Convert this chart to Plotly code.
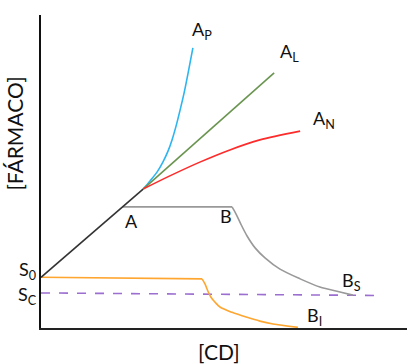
import plotly.graph_objects as go

# Phase-solubility diagram (Higuchi–Connors): drug solubility vs cyclodextrin concentration
s0 = 1.62  # intrinsic solubility
sc_line_x = [0.0, 9.18]
sc_line_y = [1.12, 1.04]

# initial linear rise up to the branch point
rise_x = [0.0, 2.79]
rise_y = [s0, 4.44]

# A-type profiles
ap_x = [2.79, 2.98, 3.17, 3.33, 3.47, 3.58, 3.69, 3.80, 3.91, 4.02, 4.15]
ap_y = [4.44, 4.70, 4.98, 5.30, 5.65, 6.01, 6.45, 6.96, 7.51, 8.15, 8.95]
al_x = [2.79, 6.37]
al_y = [4.44, 8.15]
an_x = [2.79, 3.52, 4.34, 5.16, 5.98, 7.08]
an_y = [4.44, 4.86, 5.30, 5.69, 6.01, 6.29]

# Bs profile: plateau then decline
bs_plateau_x = [2.22, 5.22]
bs_plateau_y = [3.87, 3.87]
bs_x = [5.22, 5.33, 5.46, 5.63, 5.85, 6.12, 6.53, 7.08, 7.62, 8.17, 8.52]
bs_y = [3.87, 3.64, 3.32, 2.94, 2.56, 2.24, 1.88, 1.57, 1.31, 1.15, 1.05]

# Bi profile
bi_plateau_x = [0.0, 4.40]
bi_plateau_y = [s0, 1.57]
bi_x = [4.40, 4.48, 4.56, 4.64, 4.75, 4.89, 5.22, 5.63, 5.98, 6.34, 7.02]
bi_y = [1.57, 1.41, 1.18, 0.99, 0.83, 0.67, 0.50, 0.34, 0.22, 0.13, 0.02]

FONT = "Lato"
lw = 1.6

fig = go.Figure()


def add_line(x, y, color, dash="solid", shape="linear"):
    fig.add_trace(go.Scatter(x=x, y=y, mode="lines", hoverinfo="skip",
                             line=dict(color=color, width=lw, dash=dash,
                                       shape=shape, smoothing=0.8)))


add_line(sc_line_x, sc_line_y, "#9B6FCF", dash="dash")
add_line(bi_plateau_x, bi_plateau_y, "#FFA630")
add_line(bi_x, bi_y, "#FFA630", shape="spline")
add_line(bs_plateau_x, bs_plateau_y, "#999999")
add_line(bs_x, bs_y, "#999999", shape="spline")
add_line(rise_x, rise_y, "#333333")
add_line(ap_x, ap_y, "#2DB5F0", shape="spline")
add_line(al_x, al_y, "#6A9550")
add_line(an_x, an_y, "#FF2A2A", shape="spline")

labels = [
    ("A<sub>P</sub>", 4.40, 9.52),
    ("A<sub>L</sub>", 6.78, 8.79),
    ("A<sub>N</sub>", 7.74, 6.65),
    ("A", 2.46, 3.42),
    ("B", 5.05, 3.58),
    ("B<sub>S</sub>", 8.48, 1.47),
    ("B<sub>I</sub>", 7.46, 0.38),
]
for txt, x, y in labels:
    fig.add_annotation(x=x, y=y, text=txt, showarrow=False,
                       xanchor="center", yanchor="middle",
                       font=dict(family=FONT, size=18, color="#111111"))

# intercept labels sit left of the y axis
for txt, y in [("S<sub>0</sub>", 1.85), ("S<sub>C</sub>", 1.05)]:
    fig.add_annotation(x=-0.038, y=y / 10, xref="paper", yref="paper", text=txt,
                       showarrow=False, xanchor="center", yanchor="middle",
                       font=dict(family=FONT, size=18, color="#111111"))

fig.add_annotation(x=0.487, y=-0.075, xref="paper", yref="paper", text="[CD]",
                   showarrow=False, xanchor="center", yanchor="middle",
                   font=dict(family=FONT, size=21, color="#111111"))
fig.add_annotation(x=-0.072, y=0.62, xref="paper", yref="paper", text="[FÁRMACO]",
                   textangle=-90, showarrow=False, xanchor="center", yanchor="middle",
                   font=dict(family=FONT, size=21, color="#111111"))

fig.update_xaxes(range=[0, 10], showgrid=False, zeroline=False, showticklabels=False,
                 ticks="", showline=True, linecolor="#222222", linewidth=2)
fig.update_yaxes(range=[0, 10], showgrid=False, zeroline=False, showticklabels=False,
                 ticks="", showline=True, linecolor="#111111", linewidth=2)
fig.update_layout(width=407, height=364, showlegend=False,
                  margin=dict(l=41, r=0, t=15, b=36),
                  plot_bgcolor="white", paper_bgcolor="white")

fig.write_html("out.html")
